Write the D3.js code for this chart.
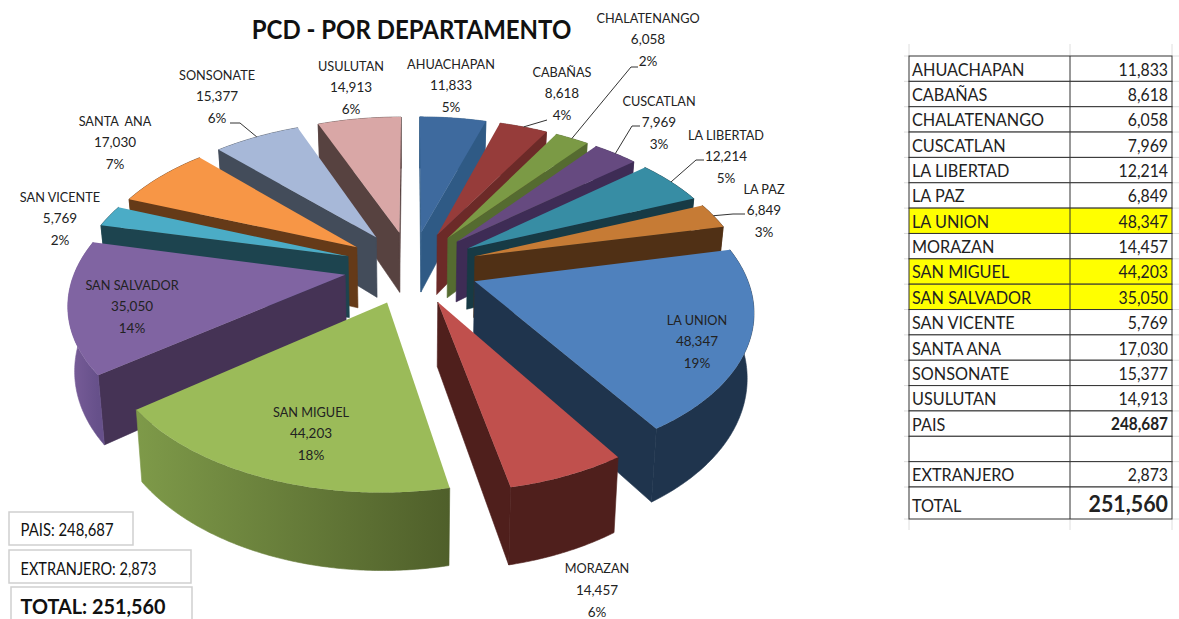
<!DOCTYPE html>
<html>

<head>
    <meta charset="utf-8">
    <style>
        body {
            margin: 0;
            background: #fff;
            font-family: Lato, 'Noto Sans', sans-serif;
            overflow: hidden;
        }

        svg {
            display: block;
        }

        .label text {
            font-size: 13.5px;
            fill: #222;
            text-anchor: middle;
            white-space: pre;
        }

        .leader {
            fill: none;
            stroke: #333;
            stroke-width: 1px;
        }

        .cell {
            font-size: 17px;
            fill: #222;
        }
    </style>
</head>

<body>
    <svg width="1179" height="619"></svg>
</body>

<script src="https://d3js.org/d3.v7.min.js"></script>

<script>
    // chart data, in the order of the sheet
    const departments = ["AHUACHAPAN", "CABAÑAS", "CHALATENANGO", "CUSCATLAN", "LA LIBERTAD", "LA PAZ", "LA UNION",
        "MORAZAN", "SAN MIGUEL", "SAN SALVADOR", "SAN VICENTE", "SANTA ANA", "SONSONATE", "USULUTAN"]
    const values = [11833, 8618, 6058, 7969, 12214, 6849, 48347, 14457, 44203, 35050, 5769, 17030, 15377, 14913]
    // percents as printed on the chart (cabañas says 4%)
    const percents = [5, 4, 2, 3, 5, 3, 19, 6, 18, 14, 2, 7, 6, 6]
    const highlighted = ["LA UNION", "SAN MIGUEL", "SAN SALVADOR"]
    const pais = 248687
    const extranjero = 2873
    const total = 251560

    // top face, side face, rim gradient left / right
    const topColors = ["#3e6a9e", "#963c3a", "#7b9a45", "#664a80", "#378da4", "#c67b35", "#4f81bd",
        "#c0504d", "#9bbb59", "#8064a2", "#4bacc6", "#f79646", "#a7b8d8", "#d9a7a6"]
    const sideColors = ["#2f5a85", "#6c2a28", "#556b30", "#3e2c55", "#173a45", "#503015", "#1f344d",
        "#4f1f1c", "#4f5f2a", "#453355", "#1d444f", "#653a18", "#434c5a", "#574240"]
    const rimLeft = ["#2f5a85", "#6c2a28", "#556b30", "#3e2c55", "#173a45", "#503015", "#1f344d",
        "#4f1f1c", "#7e9a49", "#7a5e9a", "#1d444f", "#653a18", "#434c5a", "#574240"]
    const rimRight = ["#2f5a85", "#6c2a28", "#556b30", "#3e2c55", "#173a45", "#503015", "#1f344d",
        "#4f1f1c", "#4f5f2a", "#66508a", "#1d444f", "#653a18", "#434c5a", "#574240"]

    // label centers and leader elbows, by department
    const labelAt = {
        "AHUACHAPAN": [451, 64], "CABAÑAS": [562, 72], "CHALATENANGO": [648, 18], "CUSCATLAN": [659, 101],
        "LA LIBERTAD": [726, 135], "LA PAZ": [764, 189], "LA UNION": [697, 320], "MORAZAN": [597, 568.5],
        "SAN MIGUEL": [311, 412], "SAN SALVADOR": [132, 285], "SAN VICENTE": [60, 197], "SANTA ANA": [115, 121],
        "SONSONATE": [217, 75], "USULUTAN": [351, 66]
    }
    const leaders = {
        "CABAÑAS": [[547, 120]],
        "CHALATENANGO": [[631, 67], [638, 67]],
        "CUSCATLAN": [[632, 126], [640, 126]],
        "LA LIBERTAD": [[696, 160], [704, 160]],
        "LA PAZ": [[733, 214], [745, 214]],
        "SONSONATE": [[240, 123], [230, 123]]
    }

    let svg = d3.select("svg")

    // squeeze a text sideways, lato runs wider than the font of the picture
    function squeeze(sel, ratio) {
        sel.attr("lengthAdjust", "spacingAndGlyphs")
            .attr("textLength", function (d, i) {
                let r = typeof ratio === "function" ? ratio(d, i) : ratio
                return this.getComputedTextLength() * r
            })
    }

    //// pie: tilted disc with perspective, each slice pulled out from the center
    let cx = 411.5, cy = 267
    let kx = 269, kz = 145.3, persp = 0.166
    let explode = 0.25, thick = 62

    // world (X right, Z towards viewer, radius 1) to screen
    function project(X, Z, bottom) {
        let den = 1 - persp * Z
        let px = kx * X / den
        let py = kz * Z / den
        if (bottom) {
            return [cx + px * 0.98, cy + py + thick / den]
        }
        return [cx + px, cy + py]
    }

    function apex(d) {
        let mid = (d.startAngle + d.endAngle) / 2
        return [explode * Math.sin(mid), -explode * Math.cos(mid)]
    }

    function corner(d, a, bottom) {
        let o = apex(d)
        return project(o[0] + Math.sin(a), o[1] - Math.cos(a), bottom)
    }

    function apexPoint(d, bottom) {
        let o = apex(d)
        return project(o[0], o[1], bottom)
    }

    let slices = d3.pie().sort(null)(values)
    slices.forEach((d, i) => { d.name = departments[i] })

    let angles = d => {
        let list = d3.range(d.startAngle, d.endAngle, 0.01)
        list.push(d.endAngle)
        return list
    }

    let line = d3.line()
    let closed = pts => line(pts) + "Z"

    let defs = svg.append("defs")
    slices.forEach((d, i) => {
        let arc = angles(d).map(a => corner(d, a, false))
        let g = defs.append("linearGradient")
            .attr("id", "rim" + i)
            .attr("gradientUnits", "userSpaceOnUse")
            .attr("x1", d3.min(arc, p => p[0]))
            .attr("x2", d3.max(arc, p => p[0]))
            .attr("y1", 0)
            .attr("y2", 0)
        g.append("stop").attr("offset", 0).attr("stop-color", rimLeft[i])
        g.append("stop").attr("offset", 1).attr("stop-color", rimRight[i])
    })

    // painter's order, back slices first
    let order = d3.range(slices.length).sort((a, b) => {
        let ma = (slices[a].startAngle + slices[a].endAngle) / 2
        let mb = (slices[b].startAngle + slices[b].endAngle) / 2
        return Math.cos(mb) - Math.cos(ma)
    })

    let pie = svg.append("g").attr("class", "pie")

    order.forEach(i => {
        let d = slices[i]
        let g = pie.append("g")
        let aT = apexPoint(d, false), aB = apexPoint(d, true)

        // radial walls, only the ones turned to the viewer
        let startWall = [aT, corner(d, d.startAngle, false), corner(d, d.startAngle, true), aB]
        let endWall = [aT, corner(d, d.endAngle, false), corner(d, d.endAngle, true), aB]
        if (d3.polygonArea(startWall) > 0) {
            g.append("path").attr("d", closed(startWall))
                .style("fill", sideColors[i]).style("stroke", sideColors[i]).style("stroke-width", "0.6px")
        }
        if (d3.polygonArea(endWall) < 0) {
            g.append("path").attr("d", closed(endWall))
                .style("fill", sideColors[i]).style("stroke", sideColors[i]).style("stroke-width", "0.6px")
        }

        let topArc = angles(d).map(a => corner(d, a, false))
        let botArc = angles(d).map(a => corner(d, a, true)).reverse()
        g.append("path")
            .attr("d", closed(topArc.concat(botArc)))
            .style("fill", `url(#rim${i})`)
            .style("stroke", `url(#rim${i})`)
            .style("stroke-width", "0.6px")

        g.append("path")
            .attr("d", closed([aT].concat(topArc)))
            .style("fill", topColors[i])
    })

    //// titles and labels
    svg.append("text")
        .attr("transform", "translate(411.5,39) scale(0.888,1)")
        .attr("text-anchor", "middle")
        .style("font-size", "27px")
        .style("font-weight", 700)
        .style("fill", "#111")
        .text("PCD - POR DEPARTAMENTO")

    let fmt = d3.format(",")

    let labels = svg.append("g")
        .selectAll("g")
        .data(slices)
        .join("g")
        .attr("class", "label")
        .attr("transform", d => `translate(${labelAt[d.name]})`)

    labels.selectAll("text")
        .data((d, i) => [d.name === "SANTA ANA" ? "SANTA  ANA" : d.name, fmt(d.value), percents[i] + "%"])
        .join("text")
        .attr("y", (t, j) => j * 21.7)
        .attr("dy", "0.35em")
        .text(t => t)
        .call(squeeze, (t, j) => j === 0 ? 0.94 : 1)

    svg.append("g")
        .selectAll("path")
        .data(slices.filter(d => leaders[d.name]))
        .join("path")
        .attr("class", "leader")
        .attr("d", d => {
            let mid = (d.startAngle + d.endAngle) / 2
            return line([corner(d, mid, false)].concat(leaders[d.name]))
        })

    //// boxes at the bottom left
    let boxes = [
        { text: "PAIS: " + fmt(pais), x: 9, y: 512, w: 124, h: 33, size: 17, weight: 400, base: 24, len: 93 },
        { text: "EXTRANJERO: " + fmt(extranjero), x: 9, y: 550, w: 182, h: 33, size: 17, weight: 400, base: 25, len: 136 },
        { text: "TOTAL: " + fmt(total), x: 11, y: 587, w: 181, h: 40, size: 21, weight: 700, base: 27, len: 145 }
    ]

    let box = svg.append("g").selectAll("g").data(boxes).join("g")

    box.append("rect")
        .attr("x", d => d.x)
        .attr("y", d => d.y)
        .attr("width", d => d.w)
        .attr("height", d => d.h)
        .style("fill", "#fff")
        .style("stroke", "#cfcfcf")
        .style("stroke-width", "1.5px")

    box.append("text")
        .attr("x", 20.5)
        .attr("y", d => d.y + d.base)
        .attr("textLength", d => d.len)
        .attr("lengthAdjust", "spacingAndGlyphs")
        .style("font-size", d => d.size + "px")
        .style("font-weight", d => d.weight)
        .style("fill", "#111")
        .text(d => d.text)

    //// table on the right
    let tableRows = departments.map((name, i) => ({ name: name, value: fmt(values[i]) }))
    tableRows.push({ name: "PAIS", value: fmt(pais), bold: true })
    tableRows.push({ name: "", value: "" })
    tableRows.push({ name: "EXTRANJERO", value: fmt(extranjero) })
    tableRows.push({ name: "TOTAL", value: fmt(total), big: true })

    let left = 909, middle = 1070, right = 1172
    let rowY = d3.scaleLinear().domain([0, 17]).range([56, 487])
    let rowTop = i => rowY(i)
    let rowBottom = i => i === 17 ? 519 : rowY(i + 1)

    let table = svg.append("g").attr("class", "table")

    // faint sheet gridlines past the edges of the table
    let grid = table.append("g").style("stroke", "#dedede").style("stroke-width", "1px")
    d3.range(0, 19).forEach(i => {
        let y = rowTop(i > 17 ? 17 : i)
        if (i === 18) y = 519
        grid.append("line").attr("x1", 904).attr("x2", left).attr("y1", y).attr("y2", y)
        grid.append("line").attr("x1", right).attr("x2", 1179).attr("y1", y).attr("y2", y)
    })
    ;[left, middle, right].forEach(x => {
        grid.append("line").attr("x1", x).attr("x2", x).attr("y1", 44).attr("y2", 56)
        grid.append("line").attr("x1", x).attr("x2", x).attr("y1", 519).attr("y2", 530)
    })

    let row = table.selectAll("g.row")
        .data(tableRows)
        .join("g")
        .attr("class", "row")

    row.append("rect")
        .attr("x", left)
        .attr("width", right - left)
        .attr("y", (d, i) => rowTop(i))
        .attr("height", (d, i) => rowBottom(i) - rowTop(i))
        .style("fill", d => highlighted.includes(d.name) ? "#ffff00" : "#fff")
        .style("stroke", "#333")
        .style("stroke-width", "1px")

    row.append("line")
        .attr("x1", middle)
        .attr("x2", middle)
        .attr("y1", (d, i) => rowTop(i))
        .attr("y2", (d, i) => rowBottom(i))
        .style("stroke", "#333")

    row.append("text")
        .attr("class", "cell")
        .attr("x", 912)
        .attr("y", (d, i) => (rowTop(i) + rowBottom(i)) / 2 + (d.name === "TOTAL" ? 3 : 1))
        .attr("dy", "0.35em")
        .text(d => d.name)
        .call(squeeze, 0.955)

    row.append("text")
        .attr("class", "cell")
        .attr("x", 1168)
        .attr("y", (d, i) => (rowTop(i) + rowBottom(i)) / 2 + 1)
        .attr("dy", "0.35em")
        .attr("text-anchor", "end")
        .style("font-weight", d => d.bold || d.big ? 700 : 400)
        .style("font-size", d => d.big ? "23px" : d.bold ? "16.5px" : "17px")
        .text(d => d.value)
        .call(squeeze, 0.93)
</script>

</html>
